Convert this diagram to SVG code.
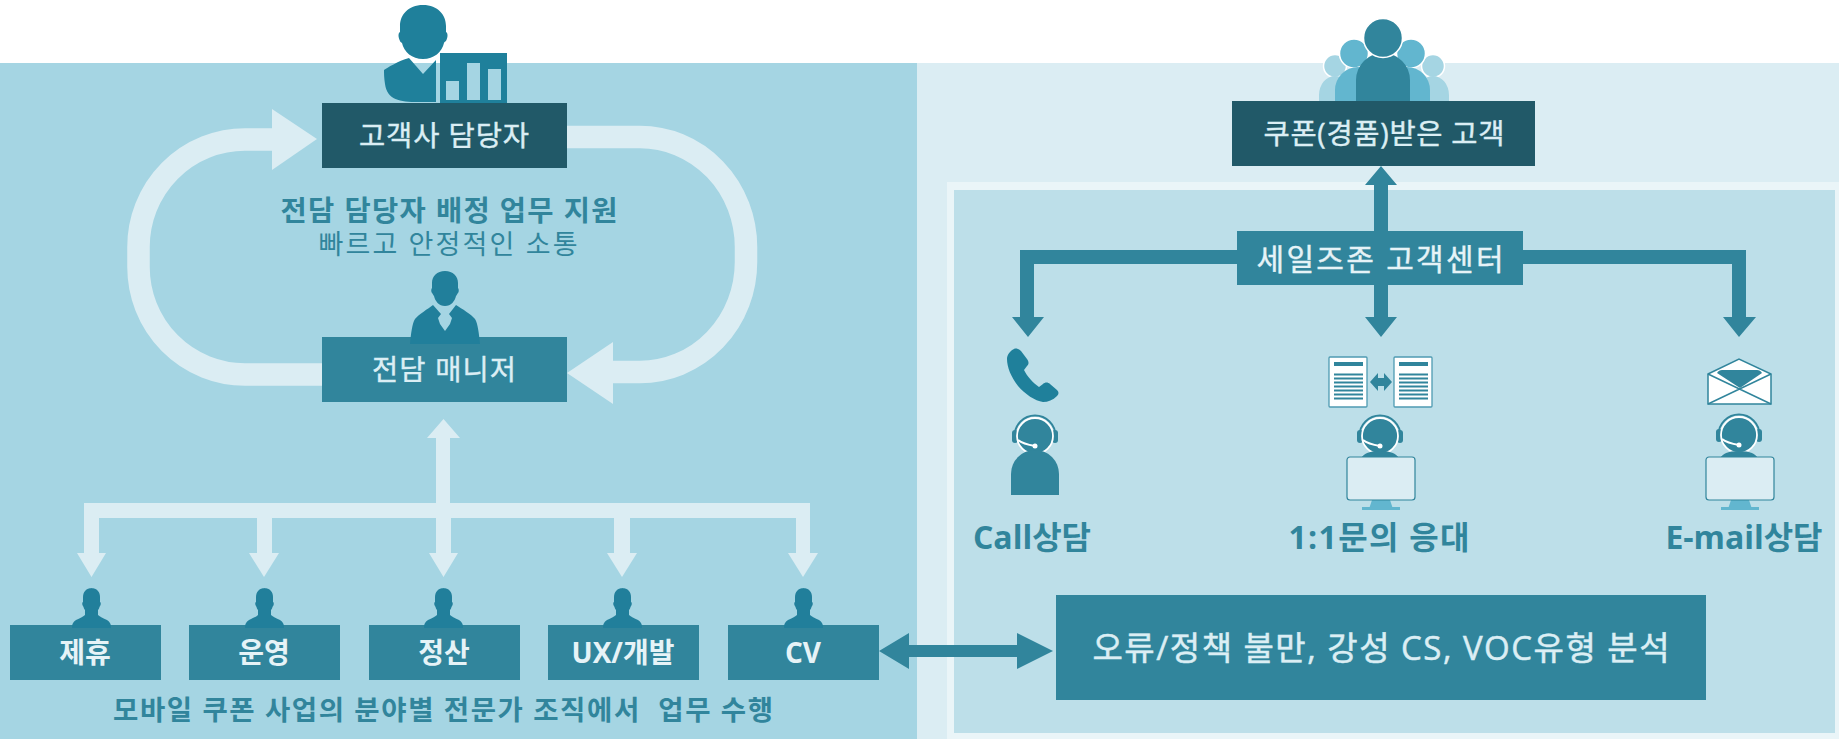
<svg xmlns="http://www.w3.org/2000/svg" width="1839" height="739" viewBox="0 0 1839 739">
<style>
text{text-anchor:middle;font-family:"Open Sans","Noto Sans CJK KR",sans-serif}
.lb{fill:#dbeef4;stroke:#dbeef4;stroke-width:.4px;font-size:28.5px}
.sm{fill:#e6f3f7;font-size:28px;font-weight:700}
.t{fill:#31859c}
.b{font-weight:700}
.dark{fill:#215968}
.mid{fill:#31859c}
.ic{fill:#1f809b}
.lite{fill:#dbedf3}
.ag{fill:#31859c}
.mon{fill:#dbedf3;stroke:#31859c;stroke-width:1.2}
.stand{fill:#62b6cf}
.doc{fill:#fff;stroke:#4f9bb2;stroke-width:1.3}
</style>
<defs>
<g id="small-person"><path fill="#217f9b" d="M0 -40c6 0 9 4 9 9 0 2 0 4 0 5 1 0 1 3 0 4-1 2-1 3-2 4l0 5c2 2 5 3 9 5 3 2 4 4 4 7v1h-39v-1c0-3 1-5 4-7 4-2 7-3 9-5l0-5c-1-1-1-2-2-4-1-1-1-4 0-4 0-1 0-3 0-5 0-5 3-9 9-9z"/></g>
<g id="agent">
<path fill="none" stroke="#31859c" stroke-width="1.800" d="M-20.500 0a20.500 20.500 0 0 1 41 0"/>
<rect class="ag" x="-23" y="-6" width="6" height="13" rx="3"/><rect class="ag" x="17" y="-6" width="6" height="13" rx="3"/>
<circle class="ag" r="18" stroke="#fff" stroke-width="1.800"/>
<path fill="none" stroke="#fff" stroke-width="2" d="M-17 4c5 4 11 5 17 6"/><circle cx="0" cy="10" r="2.500" fill="#fff"/>
</g>
<g id="monitor">
<path class="stand" d="M-9 43h18l3 9h-24z"/><rect class="stand" x="-19" y="50" width="38" height="3"/>
<rect class="mon" x="-34" width="68" height="43" rx="3"/>
</g>
<g id="doc">
<rect class="doc" width="38" height="50" rx="1"/>
<g class="mid"><rect x="5" y="5" width="29" height="4"/><rect x="5" y="16.500" width="29" height="2"/><rect x="5" y="20.500" width="29" height="2"/><rect x="5" y="24.500" width="29" height="2"/><rect x="5" y="28.500" width="29" height="2"/><rect x="5" y="32.500" width="29" height="2"/><rect x="5" y="36.500" width="29" height="2"/><rect x="5" y="40.500" width="29" height="2"/></g>
</g>
</defs>
<rect width="1839" height="739" fill="#fff"/>
<rect x="0" y="63" width="917" height="676" fill="#a5d5e3"/>
<rect x="917" y="63" width="922" height="676" fill="#dbedf3"/>
<rect x="947" y="182" width="892" height="557" fill="#eaf5f8"/>
<rect x="954" y="190" width="881" height="543" fill="#bddfe9"/>

<g id="connectors">
<g fill="none" stroke="#dbedf3" stroke-width="22.500">
<path d="M567 137H640a106 110 0 0 1 106 110V262a106 110 0 0 1-106 110H610"/>
<path d="M322 374.500H245a106.500 107.500 0 0 1-106.500-107.500V247a106.500 107.500 0 0 1 106.500-107.500H275"/>
</g>
<g class="lite">
<path d="M567 373L613 342V404z"/>
<path d="M317 139L272 109V170z"/>
<path d="M443.500 419L460 438H450V503H810V553H818L803 577 788 553H796V518H630V553H637L622 577 607 553H614V518H451V553H458L443.500 577 429 553H436V518H272V553H279L264 577 249 553H257V518H99V553H106L91.500 577 77 553H84V503H436V438H427z"/>
</g>
<g class="mid">
<path d="M1381 166L1397 185H1388V231H1374V185H1365z"/>
<path d="M1374 285H1388V317H1397L1381 337 1365 317H1374z"/>
<path d="M1237 250H1020V317H1012L1028 337 1044 317H1034V264H1237z"/>
<path d="M1523 250H1746V317H1756L1739 337 1723 317H1732V264H1523z"/>
<path d="M879 651L909 633V645H1017V633L1053 651 1017 669V657H909V669z"/>
</g>
</g>

<g id="n-client-manager">
<path class="ic" d="M423 5c15 0 23 10 23 21 0 3 0 6 0 6 2 1 2 5 0 9-1 1-2 1-2 2-2 9-10 16-21 16-11 0-19-7-21-16-1-1-2-1-2-2-2-4-2-8 0-9 0 0 0-3 0-6 0-11 8-21 23-21zM409 58l14 16 13-14v42h-18c-18 0-31-2-33-18-1-6-1-11-1-14 3-2 14-9 25-12z"/>
<rect class="ic" x="440" y="53" width="67" height="51"/>
<g fill="#a5d5e3"><rect x="446" y="81" width="13" height="19"/><rect x="467" y="63" width="13" height="37"/><rect x="488" y="69" width="13" height="31"/></g>
<rect class="dark" x="322" y="103" width="245" height="65"/>
<text class="lb" x="444" y="146" textLength="170">고객사 담당자</text>
</g>

<g id="n-coupon-customer">
<g fill="#a5d5e3"><circle cx="1335" cy="66" r="11.500" stroke="#fff" stroke-width="1.500"/><circle cx="1433" cy="66" r="11.500" stroke="#fff" stroke-width="1.500"/><path d="M1319 101V95a16 19 0 0 1 32 0V101zM1417 101V95a16 19 0 0 1 32 0V101z"/></g>
<g fill="#62b6cf"><circle cx="1354" cy="53.500" r="14.500" stroke="#fff" stroke-width="1.500"/><circle cx="1411" cy="53.500" r="14.500" stroke="#fff" stroke-width="1.500"/><path d="M1335 101V90a23 23 0 0 1 46 0V101zM1384 101V90a23 23 0 0 1 46 0V101z"/></g>
<path class="mid" d="M1356 101V80a27 27 0 0 1 54 0V101z"/>
<circle class="mid" cx="1383" cy="38" r="19.500" stroke="#fff" stroke-width="1.500"/>
<rect class="dark" x="1232" y="101" width="303" height="65"/>
<text class="lb" x="1384" y="144" textLength="241">쿠폰(경품)받은 고객</text>
</g>

<g id="n-support-text">
<text class="t b" x="449" y="221" font-size="28.5" textLength="337">전담 담당자 배정 업무 지원</text>
<text class="t" x="448" y="254" font-size="27" textLength="259">빠르고 안정적인 소통</text>
</g>

<g id="n-manager">
<rect class="mid" x="322" y="337" width="245" height="65"/>
<path fill="#217f9b" d="M445 271c8 0 13 5 13 12v5c1 1 1 4 0 5-1 1-1 2-2 3-1 5-5 10-11 10s-10-5-11-10c-1-1-1-2-2-3-1-1-1-4 0-5v-5c0-7 5-12 13-12zM433 305l8 9-3 4 2 6 5 7 5-7 2-6-3-4 7-9c6 4 15 9 19 14 3 5 4 15 5 25h-70c1-10 2-20 5-25 4-5 13-10 18-14z"/>
<text class="lb" x="444" y="380" textLength="144">전담 매니저</text>
</g>

<g id="n-cs-center">
<rect class="mid" x="1237" y="231" width="286" height="54"/>
<text x="1380" y="270" fill="#e6f3f7" stroke="#e6f3f7" stroke-width=".4" font-size="30" textLength="247">세일즈존 고객센터</text>
</g>

<g id="n-call">
<path class="ic" d="M1014 349c2-1 5 0 7 2l6 8c2 3 2 5 0 7l-3 4c3 6 9 13 15 17l4-3c2-2 5-2 7 0l7 6c2 2 2 4 0 6-4 4-9 6-14 6-8-1-18-8-25-16-7-9-11-19-11-27 0-4 3-8 7-10z"/>
<use href="#agent" x="1035" y="436"/>
<path class="ag" d="M1011 495V474a24 24 0 0 1 48 0V495z"/>
<text class="t b" x="1032" y="549" font-size="32" textLength="118">Call상담</text>
</g>

<g id="n-inquiry">
<use href="#doc" x="1329" y="357"/><use href="#doc" x="1394" y="357"/>
<path class="mid" d="M1370 382l8-9v5h6v-5l8 9-8 9v-5h-6v5z"/>
<use href="#agent" x="1380" y="436"/>
<path class="ag" d="M1361 458c3-4 7-7 19-7s16 3 19 7z"/>
<use href="#monitor" x="1381" y="457"/>
<text class="t b" x="1379" y="549" font-size="32" textLength="181">1:1문의 응대</text>
</g>

<g id="n-email">
<path fill="#fff" stroke="#31859c" stroke-width="1.500" d="M1708 374L1739 359 1771 374V404H1708z"/>
<path class="mid" d="M1717 373c1-2 3-3 5-3h35c2 0 4 1 5 3l-22 15z"/>
<path fill="none" stroke="#31859c" stroke-width="1.500" d="M1708 374L1771 404M1771 374L1708 404"/>
<use href="#agent" x="1739" y="435"/>
<path class="ag" d="M1720 458c3-4 7-7 19-7s16 3 19 7z"/>
<use href="#monitor" x="1740" y="457"/>
<text class="t b" x="1744" y="549" font-size="32" textLength="157">E-mail상담</text>
</g>

<g id="n-jehyu"><rect class="mid" x="10" y="625" width="151" height="55"/><use href="#small-person" x="91" y="628"/><text class="sm" x="85" y="663">제휴</text></g>
<g id="n-unyeong"><rect class="mid" x="189" y="625" width="151" height="55"/><use href="#small-person" x="264" y="628"/><text class="sm" x="264" y="663">운영</text></g>
<g id="n-jeongsan"><rect class="mid" x="369" y="625" width="151" height="55"/><use href="#small-person" x="443" y="628"/><text class="sm" x="444" y="663">정산</text></g>
<g id="n-ux"><rect class="mid" x="548" y="625" width="151" height="55"/><use href="#small-person" x="622" y="628"/><text class="sm" x="623" y="663">UX/개발</text></g>
<g id="n-cv"><rect class="mid" x="728" y="625" width="151" height="55"/><use href="#small-person" x="803" y="628"/><text class="sm" x="803" y="663">CV</text></g>

<g id="n-org-text"><text class="t b" x="443" y="720" font-size="27.5" textLength="660" xml:space="preserve">모바일 쿠폰 사업의 분야별 전문가 조직에서  업무 수행</text></g>

<g id="n-analysis">
<rect class="mid" x="1056" y="595" width="650" height="105"/>
<text x="1381" y="660" fill="#dbeef4" stroke="#dbeef4" stroke-width=".5" font-size="33" textLength="577">오류/정책 불만, 강성 CS, VOC유형 분석</text>
</g>
</svg>
